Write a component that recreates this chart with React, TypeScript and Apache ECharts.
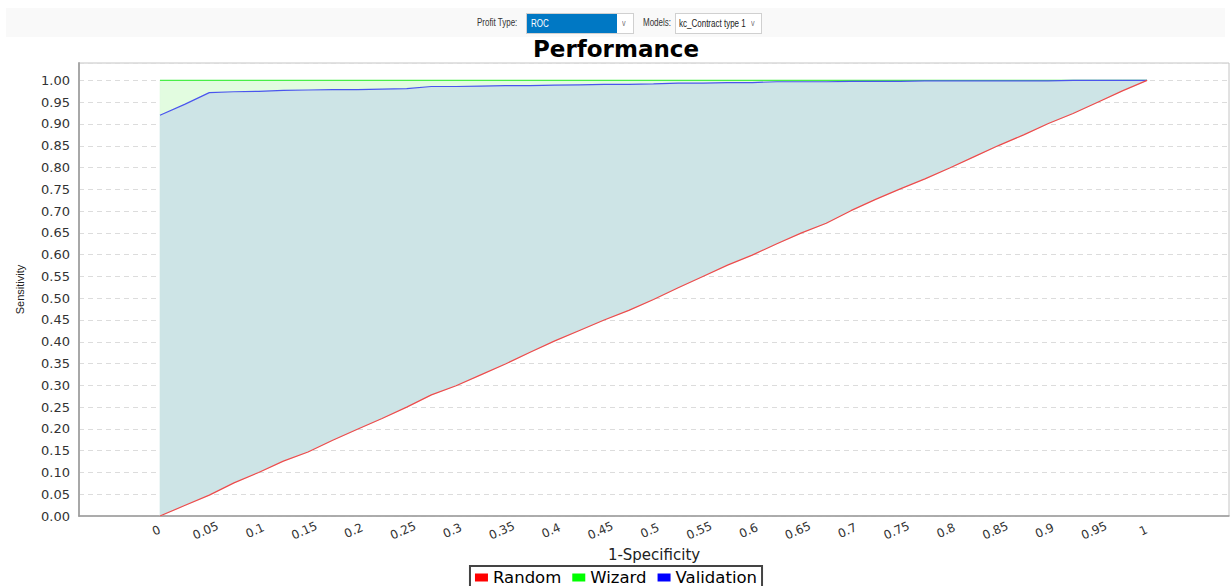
import React, { useEffect, useRef } from 'react';
import * as echarts from 'echarts';

// 1-Specificity sample positions
const fprValues = [
  0, 0.025, 0.05, 0.075, 0.1, 0.125, 0.15, 0.175, 0.2, 0.225, 0.25, 0.275, 0.3, 0.325, 0.35,
  0.375, 0.4, 0.425, 0.45, 0.475, 0.5, 0.525, 0.55, 0.575, 0.6, 0.625, 0.65, 0.675, 0.7,
  0.725, 0.75, 0.775, 0.8, 0.825, 0.85, 0.875, 0.9, 0.925, 0.95, 0.975, 1,
];

// Sensitivity per series
const randomTpr = [
  0, 0.024, 0.048, 0.076, 0.1, 0.126, 0.147, 0.174, 0.199, 0.224, 0.25, 0.278, 0.299, 0.324,
  0.349, 0.376, 0.402, 0.426, 0.45, 0.472, 0.497, 0.524, 0.55, 0.576, 0.599, 0.625, 0.65,
  0.672, 0.701, 0.727, 0.751, 0.774, 0.799, 0.825, 0.851, 0.875, 0.901, 0.924, 0.95, 0.976, 1,
];

const validationTpr = [
  0.92, 0.945, 0.972, 0.974, 0.975, 0.977, 0.978, 0.979, 0.979, 0.98, 0.981, 0.986, 0.986,
  0.987, 0.988, 0.988, 0.989, 0.99, 0.991, 0.991, 0.992, 0.994, 0.994, 0.995, 0.995, 0.997,
  0.997, 0.997, 0.998, 0.998, 0.998, 0.999, 0.999, 0.999, 0.999, 0.999, 0.999, 1, 1, 1, 1,
];

const wizardTpr = [
  1, 1, 1, 1, 1, 1, 1, 1, 1, 1, 1, 1, 1, 1, 1, 1, 1, 1, 1, 1, 1,
  1, 1, 1, 1, 1, 1, 1, 1, 1, 1, 1, 1, 1, 1, 1, 1, 1, 1, 1, 1,
];

const xTickLabels = [
  '0', '0.05', '0.1', '0.15', '0.2', '0.25', '0.3', '0.35', '0.4', '0.45', '0.5',
  '0.55', '0.6', '0.65', '0.7', '0.75', '0.8', '0.85', '0.9', '0.95', '1',
];

const seriesNames = ['Random', 'Wizard', 'Validation'];
const seriesColors = ['#ff0000', '#00ff00', '#0000ff'];
const lineColors = ['#ee4b4b', '#48ee48', '#4a55ee'];

const FONT = "'DejaVu Sans', Arial, sans-serif";

// Band between two curves, drawn once as a single polygon via the axes' own scales
function bandSeries(name: string, lower: number[], upper: number[], color: string) {
  return {
    name,
    type: 'custom',
    silent: true,
    z: 1,
    data: fprValues.map((x, i) => [x, lower[i], upper[i]]),
    encode: { x: 0, y: [1, 2] },
    renderItem: (params: any, api: any) => {
      if (params.dataIndex !== 0) return null;
      const pts: number[][] = [];
      for (let i = 0; i < fprValues.length; i++) pts.push(api.coord([fprValues[i], upper[i]]));
      for (let i = fprValues.length - 1; i >= 0; i--) pts.push(api.coord([fprValues[i], lower[i]]));
      return {
        type: 'polygon',
        shape: { points: pts },
        style: { fill: color, stroke: color, lineWidth: 0.5 },
      };
    },
  };
}

export default function App() {
  const ref = useRef<HTMLDivElement>(null);

  useEffect(() => {
    if (!ref.current) return;
    const chart = echarts.init(ref.current, undefined, { renderer: 'svg' });

    const pair = (ys: number[]) => fprValues.map((x, i) => [x, ys[i]]);

    chart.setOption({
      animation: false,
      title: {
        text: 'Performance',
        left: 'center',
        top: 37,
        padding: 0,
        textStyle: { fontFamily: FONT, fontWeight: 'bold', fontSize: 23, color: '#000' },
      },
      legend: {
        data: seriesNames.map((n, i) => ({ name: n, itemStyle: { color: seriesColors[i] } })),
        left: 'center',
        top: 566,
        icon: 'rect',
        itemWidth: 13,
        itemHeight: 8,
        itemGap: 11,
        padding: [3, 5, 3, 5],
        borderColor: '#444',
        borderWidth: 2,
        borderRadius: 0,
        textStyle: { fontFamily: FONT, fontSize: 16.5, lineHeight: 14, color: '#000' },
      },
      grid: {
        left: 79,
        right: 3,
        top: 63,
        bottom: 70,
        show: true,
        borderColor: '#c4c4c4',
        borderWidth: 1,
        backgroundColor: 'transparent',
      },
      xAxis: {
        type: 'value',
        min: -0.082,
        max: 1.083,
        name: '1-Specificity',
        nameLocation: 'middle',
        nameGap: 25,
        nameTextStyle: { fontFamily: FONT, fontSize: 15, color: '#222' },
        axisLine: { show: true, onZero: false, lineStyle: { color: '#9a9a9a', width: 1.5 } },
        axisTick: { show: false },
        splitLine: { show: false },
        axisLabel: {
          customValues: xTickLabels.map((s) => parseFloat(s)),
          formatter: (v: number) => {
            const idx = xTickLabels.findIndex((s) => Math.abs(parseFloat(s) - v) < 1e-9);
            return idx >= 0 ? xTickLabels[idx] : '';
          },
          rotate: 24,
          align: 'center',
          verticalAlign: 'middle',
          margin: 13,
          padding: [0, 8, 0, 0],
          fontFamily: FONT,
          fontSize: 12,
          color: '#333',
        },
      },
      yAxis: {
        type: 'value',
        min: 0,
        max: 1.04,
        interval: 0.05,
        name: 'Sensitivity',
        nameLocation: 'middle',
        nameGap: 54,
        nameTextStyle: { fontFamily: "'Liberation Sans', Arial, sans-serif", fontSize: 11, color: '#222' },
        axisLine: { show: true, onZero: false, lineStyle: { color: '#a8a8a8', width: 2 } },
        axisTick: { show: false },
        axisLabel: {
          showMaxLabel: false,
          margin: 9,
          formatter: (v: number) => v.toFixed(2),
          fontFamily: FONT,
          fontSize: 13,
          color: '#333',
        },
        splitLine: { show: true, lineStyle: { color: '#dcdcdc', type: [5, 4], width: 1 } },
      },
      series: [
        bandSeries('_tealBand', randomTpr, validationTpr, '#cde4e6'),
        bandSeries('_greenBand', validationTpr, wizardTpr, '#e2fce0'),
        {
          name: 'Wizard',
          type: 'line',
          data: pair(wizardTpr),
          symbol: 'none',
          itemStyle: { color: seriesColors[1] },
          lineStyle: { color: lineColors[1], width: 1.4 },
          z: 3,
        },
        {
          name: 'Validation',
          type: 'line',
          data: pair(validationTpr),
          symbol: 'none',
          itemStyle: { color: seriesColors[2] },
          lineStyle: { color: lineColors[2], width: 1.2 },
          z: 4,
        },
        {
          name: 'Random',
          type: 'line',
          data: pair(randomTpr),
          symbol: 'none',
          itemStyle: { color: seriesColors[0] },
          lineStyle: { color: lineColors[0], width: 1.2 },
          z: 4,
        },
      ],
    });

    return () => chart.dispose();
  }, []);

  const small: React.CSSProperties = {
    position: 'absolute',
    fontFamily: "'Liberation Sans', Arial, sans-serif",
    fontSize: 10,
    lineHeight: '19px',
    color: '#333',
    whiteSpace: 'nowrap',
    transform: 'scaleX(0.8)',
    transformOrigin: 'left center',
  };

  return (
    <div style={{ position: 'absolute', left: 0, top: 0, width: 1232, height: 586, overflow: 'hidden', background: '#fff' }}>
      <div ref={ref} style={{ position: 'absolute', left: 0, top: 0, width: 1232, height: 586 }} />
      <div style={{ position: 'absolute', left: 6, top: 8, width: 1219, height: 29, background: '#f9f9f9' }}>
        <span style={{ ...small, left: 471, top: 5 }}>Profit Type:</span>
        <div style={{ position: 'absolute', left: 520, top: 5, width: 106, height: 19, border: '1px solid #d0d0d0', background: '#fff' }}>
          <div style={{ position: 'absolute', left: 0, top: 0, width: 90, height: 19, background: '#0078c4' }} />
          <span style={{ ...small, left: 4, top: 0, color: '#fff' }}>ROC</span>
          <span style={{ ...small, left: 95, top: 0, color: '#777', fontSize: 9 }}>v</span>
        </div>
        <span style={{ ...small, left: 637, top: 5 }}>Models:</span>
        <div style={{ position: 'absolute', left: 669, top: 5, width: 85, height: 19, border: '1px solid #d0d0d0', background: '#fff' }}>
          <span style={{ ...small, left: 3, top: 0, color: '#222' }}>kc_Contract type 1</span>
          <span style={{ ...small, left: 75, top: 0, color: '#777', fontSize: 9 }}>v</span>
        </div>
      </div>
    </div>
  );
}
